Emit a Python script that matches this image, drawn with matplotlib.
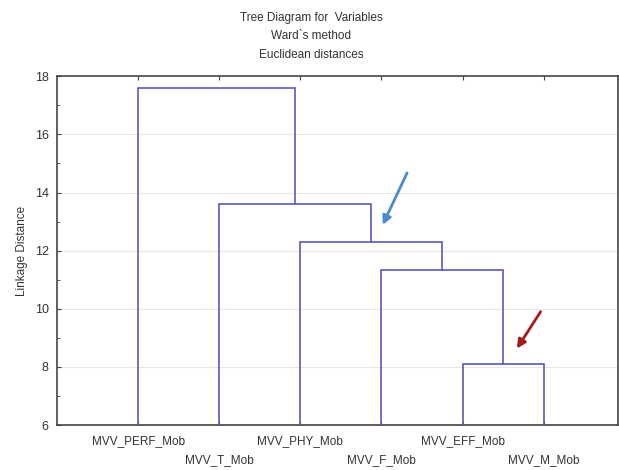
import numpy as np
import matplotlib.pyplot as plt

plt.rcParams['font.family'] = ['Liberation Sans', 'DejaVu Sans']

# leaves in dendrogram order
leaves = ['MVV_PERF_Mob', 'MVV_T_Mob', 'MVV_PHY_Mob', 'MVV_F_Mob', 'MVV_EFF_Mob', 'MVV_M_Mob']
# merges: (left member, right member, linkage distance)
merges = [
    ('MVV_EFF_Mob', 'MVV_M_Mob', 8.1),
    ('MVV_F_Mob', 'c0', 11.35),
    ('MVV_PHY_Mob', 'c1', 12.3),
    ('MVV_T_Mob', 'c2', 13.6),
    ('MVV_PERF_Mob', 'c3', 17.6),
]

link_color = '#5a5ab8'

fig = plt.figure(figsize=(6.19, 4.70), dpi=100)
ax = fig.add_axes([0.092, 0.0957, 0.907, 0.742])

pos = {name: i + 1 for i, name in enumerate(leaves)}
height = {name: 6.0 for name in leaves}
for k, (a, b, d) in enumerate(merges):
    xa, xb = pos[a], pos[b]
    ax.plot([xa, xa, xb, xb], [height[a], d, d, height[b]],
            color=link_color, linewidth=1.2, solid_joinstyle='miter', zorder=3)
    pos['c%d' % k] = (xa + xb) / 2
    height['c%d' % k] = d

ax.set_xlim(0, 6.92)
ax.set_ylim(6, 18)
ax.set_yticks(np.arange(6, 19, 2))
ax.set_yticks(np.arange(7, 18, 2), minor=True)
ax.set_xticks(np.arange(1, 7))
ax.set_xticklabels([])
ax.tick_params(axis='x', direction='in', length=3, top=True, bottom=True, color='#444444')
ax.tick_params(axis='y', which='both', direction='in', length=3, labelsize=9,
               labelcolor='#333333', color='#444444', pad=6)
ax.tick_params(axis='y', which='minor', length=2)
for y in [8, 10, 12, 14, 16]:
    ax.axhline(y, color='#e6e6e6', linewidth=0.8, zorder=1)
for s in ax.spines.values():
    s.set_color('#444444')
    s.set_linewidth(1.2)

# staggered leaf labels
for i, name in enumerate(leaves):
    yoff = -0.045 if i % 2 == 0 else -0.1
    ax.text(i + 1, yoff, name, transform=ax.get_xaxis_transform(), ha='center',
            va='center', fontsize=8.5, color='#333333')

ax.set_ylabel('Linkage Distance', fontsize=8.5, color='#333333', labelpad=5)

fig.text(0.503, 0.962, 'Tree Diagram for  Variables', ha='center', va='center', fontsize=8.5, color='#333333')
fig.text(0.503, 0.923, "Ward`s method", ha='center', va='center', fontsize=8.5, color='#333333')
fig.text(0.503, 0.883, 'Euclidean distances', ha='center', va='center', fontsize=8.5, color='#333333')

# arrows
ax.annotate('', xy=(4.0, 12.8), xytext=(4.33, 14.76),
            arrowprops=dict(arrowstyle='-|>', color='#4a8cc8', lw=2.0, mutation_scale=13))
ax.annotate('', xy=(5.65, 8.55), xytext=(5.98, 9.98),
            arrowprops=dict(arrowstyle='-|>', color='#a31c1c', lw=2.0, mutation_scale=13))

fig.savefig('out.png', dpi=100)
